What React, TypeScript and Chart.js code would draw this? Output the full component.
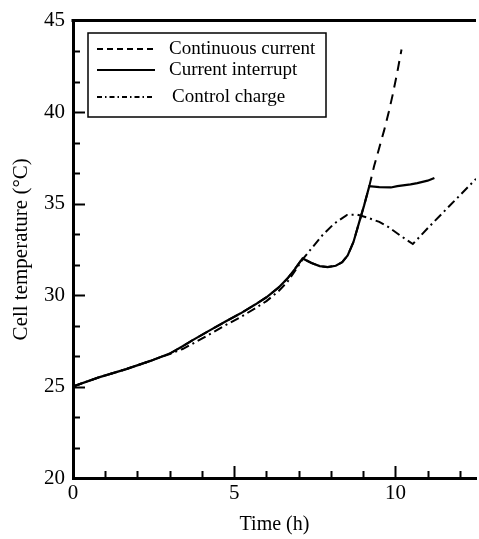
import React, { useEffect, useRef } from "react";
import { Chart, registerables } from "chart.js";

Chart.register(...registerables);

// Current-interrupt charge: temperature (°C) versus time (h)
const interruptTime = [0, 0.8, 1.65, 2.4, 3.0, 3.4, 3.7, 4.2, 4.73, 5.2, 5.65, 6.0, 6.37, 6.65, 6.88, 7.12, 7.4, 7.65, 7.9, 8.15, 8.35, 8.52, 8.7, 8.88, 9.03, 9.19, 9.5, 9.86, 10.06, 10.47, 10.68, 11.0, 11.21];
const interruptTemp = [25.0, 25.5, 25.95, 26.4, 26.8, 27.2, 27.52, 28.03, 28.55, 29.0, 29.48, 29.88, 30.4, 30.9, 31.42, 32.0, 31.75, 31.58, 31.53, 31.6, 31.8, 32.16, 32.9, 34.0, 34.9, 35.95, 35.9, 35.88, 35.95, 36.05, 36.12, 36.25, 36.4];

// Continuous charge: follows the interrupt path up to 9.19 h, then keeps heating
const continuousTime = [...interruptTime.slice(0, 26), 9.34, 9.5, 9.65, 9.8, 9.91, 10.05, 10.19];
const continuousTemp = [...interruptTemp.slice(0, 26), 37.05, 38.05, 39.0, 40.05, 40.9, 42.1, 43.42];

// Controlled charge
const controlTime = [0, 0.8, 1.65, 2.4, 3.0, 3.4, 3.7, 4.2, 4.73, 5.2, 5.65, 6.0, 6.37, 6.65, 6.88, 7.12, 7.4, 7.75, 8.1, 8.5, 8.8, 9.1, 9.5, 9.8, 10.16, 10.54, 11.0, 11.5, 12.0, 12.5];
const controlTemp = [25.0, 25.5, 25.95, 26.4, 26.78, 27.05, 27.33, 27.82, 28.35, 28.8, 29.27, 29.67, 30.2, 30.72, 31.3, 31.95, 32.55, 33.3, 33.9, 34.38, 34.4, 34.25, 34.0, 33.7, 33.24, 32.79, 33.65, 34.55, 35.45, 36.35];

const seriesLabels = ["Continuous current", "Current interrupt", "Control charge"];

const xRange = [0, 12.5];
const yRange = [20, 45];
const xMajorStep = 5;
const yMajorStep = 5;

const FONT = "'Liberation Serif', 'Times New Roman', serif";

const toPoints = (xs: number[], ys: number[]) => xs.map((x, i) => ({ x, y: ys[i] }));

// Legend sample dash patterns (shorter than in the plot)
const legendDash: Record<string, number[]> = {
  "Continuous current": [6, 4],
  "Current interrupt": [],
  "Control charge": [5, 3, 1.5, 3],
};

const framePlugin = {
  id: "frame",
  afterDraw(chart: any) {
    const { ctx, chartArea, scales } = chart;
    const xs = scales.x;
    const ys = scales.y;
    ctx.save();
    ctx.strokeStyle = "#000";
    ctx.lineWidth = 2;
    ctx.setLineDash([]);
    // inward ticks on the time axis: minor every 1 h
    for (let v = xRange[0] + 1; v < xRange[1]; v += 1) {
      const px = Math.round(xs.getPixelForValue(v)) + 0.5;
      const len = v % xMajorStep === 0 ? 12 : 7;
      ctx.beginPath();
      ctx.moveTo(px, chartArea.bottom);
      ctx.lineTo(px, chartArea.bottom - len);
      ctx.stroke();
    }
    // inward ticks on the temperature axis: three divisions per major step
    const yMinor = yMajorStep / 3;
    for (let i = 1; i * yMinor < yRange[1] - yRange[0] - 0.01; i++) {
      const v = yRange[0] + i * yMinor;
      const py = Math.round(ys.getPixelForValue(v)) + 0.5;
      const len = i % 3 === 0 ? 12 : 7;
      ctx.beginPath();
      ctx.moveTo(chartArea.left, py);
      ctx.lineTo(chartArea.left + len, py);
      ctx.stroke();
    }
    // top frame line
    ctx.lineWidth = 3;
    ctx.beginPath();
    ctx.moveTo(chartArea.left - 1.5, chartArea.top);
    ctx.lineTo(chartArea.right, chartArea.top);
    ctx.stroke();

    // legend box
    const bx = 88, by = 33, bw = 238, bh = 84;
    ctx.lineWidth = 1.5;
    ctx.fillStyle = "#fff";
    ctx.fillRect(bx, by, bw, bh);
    ctx.strokeRect(bx, by, bw, bh);
    const rows = [49, 70, 97];
    const textX = [169, 169, 172];
    ctx.font = `19px ${FONT}`;
    ctx.textBaseline = "middle";
    ctx.textAlign = "left";
    seriesLabels.forEach((label, i) => {
      const ds = chart.data.datasets.find((d: any) => d.label === label);
      ctx.strokeStyle = ds.borderColor;
      ctx.lineWidth = ds.borderWidth;
      ctx.setLineDash(legendDash[label]);
      ctx.beginPath();
      ctx.moveTo(97, rows[i]);
      ctx.lineTo(155, rows[i]);
      ctx.stroke();
      ctx.setLineDash([]);
      ctx.fillStyle = "#000";
      ctx.fillText(label, textX[i], rows[i]);
    });
    ctx.restore();
  },
};

export default function App() {
  const canvasRef = useRef<HTMLCanvasElement | null>(null);

  useEffect(() => {
    const canvas = canvasRef.current;
    if (!canvas) return;
    const chart = new Chart(canvas, {
      type: "line",
      data: {
        datasets: [
          {
            label: seriesLabels[1],
            data: toPoints(interruptTime, interruptTemp),
            borderColor: "#000",
            borderWidth: 2.2,
            pointRadius: 0,
            tension: 0,
          },
          {
            label: seriesLabels[2],
            data: toPoints(controlTime, controlTemp),
            borderColor: "#000",
            borderWidth: 2,
            borderDash: [9, 4, 2, 4],
            pointRadius: 0,
            tension: 0,
          },
          {
            label: seriesLabels[0],
            data: toPoints(continuousTime, continuousTemp),
            borderColor: "#000",
            borderWidth: 2,
            borderDash: [10, 7],
            pointRadius: 0,
            tension: 0,
          },
        ],
      },
      options: {
        responsive: false,
        animation: false,
        devicePixelRatio: 1,
        layout: { padding: { top: 16, right: 0, left: 0, bottom: 0 } },
        plugins: { legend: { display: false }, tooltip: { enabled: false } },
        scales: {
          x: {
            type: "linear",
            min: xRange[0],
            max: xRange[1],
            grid: { display: false, drawTicks: false },
            border: { display: true, color: "#000", width: 3 },
            ticks: {
              stepSize: xMajorStep,
              color: "#000",
              padding: 3,
              font: { family: FONT, size: 21 },
              callback: (v: any) => (Number(v) % xMajorStep === 0 ? String(v) : ""),
            },
            title: {
              display: true,
              text: "Time (h)",
              color: "#000",
              font: { family: FONT, size: 20 },
              padding: { top: 0, bottom: 2 },
            },
            afterFit: (scale: any) => {
              scale.height = 61;
            },
          },
          y: {
            min: yRange[0],
            max: yRange[1],
            grid: { display: false, drawTicks: false },
            border: { display: true, color: "#000", width: 3 },
            ticks: {
              stepSize: yMajorStep,
              color: "#000",
              padding: 8,
              font: { family: FONT, size: 21 },
            },
            title: {
              display: true,
              text: "Cell temperature (°C)",
              color: "#000",
              font: { family: FONT, size: 21 },
              padding: { top: 9, bottom: 0 },
            },
            afterFit: (scale: any) => {
              scale.width = 73;
            },
          },
        },
      },
      plugins: [framePlugin],
    });
    return () => chart.destroy();
  }, []);

  return (
    <div style={{ position: "fixed", left: 0, top: 0, width: 479, height: 539, background: "#fff" }}>
      <canvas ref={canvasRef} width={479} height={539} />
    </div>
  );
}
